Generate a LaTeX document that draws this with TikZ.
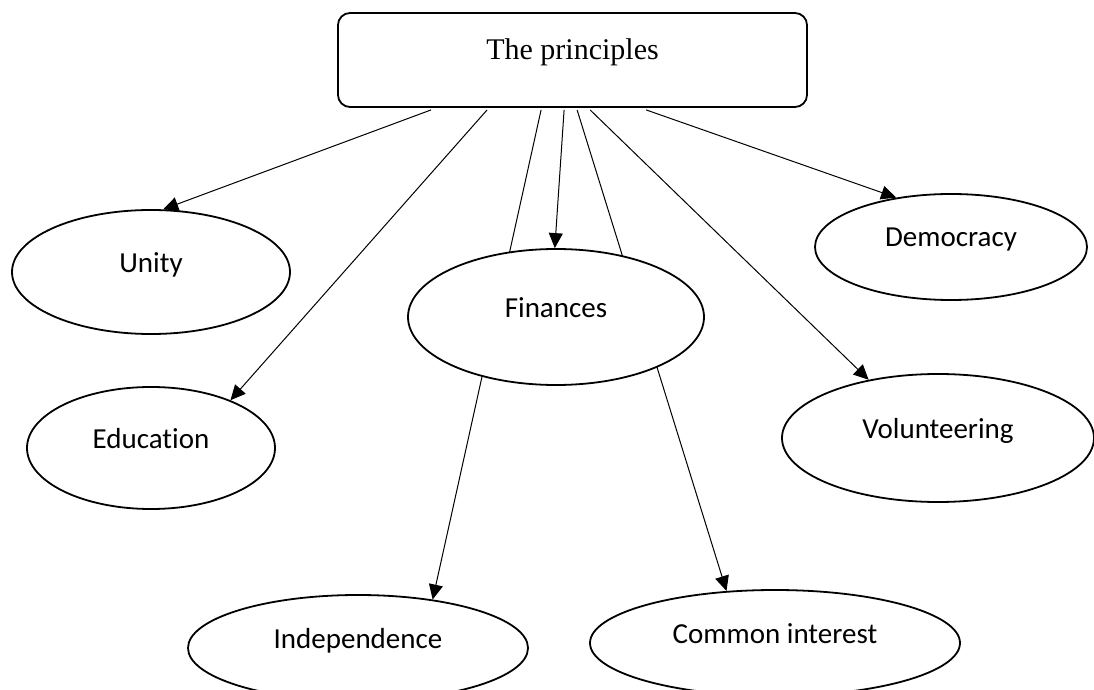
\documentclass[tikz,border=0pt]{standalone}
\usepackage{fontspec}
\setmainfont{Carlito}[Ligatures=NoCommon]
\newfontfamily\titlefont{Liberation Serif}
\usetikzlibrary{shapes,arrows.meta,positioning,backgrounds}

\tikzset{
  oval/.style={ellipse, draw, line width=0.9pt, fill=white, inner sep=0pt,
    text height=8pt, text depth=8pt, font=\fontsize{14.5}{16}\selectfont},
  topbox/.style={rectangle, rounded corners=6pt, draw, line width=0.9pt, fill=white,
    minimum width=234.5pt, minimum height=47pt, text height=10pt, text depth=10pt,
    font=\titlefont\fontsize{15}{18}\selectfont},
  arr/.style={line width=0.5pt, -{Triangle[length=7.5pt,width=7pt]}}
}

\begin{document}
\begin{tikzpicture}[x=0.5pt, y=-0.5pt]
    \clip (0,0) rectangle (1094,690);

    % Top box
    \node[topbox] (principles) at (572.5,60) {The principles};

    % Ellipses: name/x/y/width/height/text
    \foreach \n/\x/\y/\w/\h/\t in {unity/151/272/139/62/Unity,
        education/151/448/124/61/Education,
        finances/556/317/148/68/Finances,
        democracy/951/247/136/53/Democracy,
        volunteering/938/438/156/64/Volunteering,
        independence/358/648/170/53/Independence,
        common/775/643/185/53/Common interest}
        \node[oval, minimum width=\w pt, minimum height=\h pt] (\n) at (\x,\y) {\t};

    % Arrows, kept under the ellipses
    \begin{scope}[on background layer]
        \foreach \off/\to in {47/unity.79, 75/education.31, 102/independence.33,
            113.5/finances.91, 120/common.133, 126.5/volunteering.140, 154.5/democracy.138}
            \draw[arr] ([xshift=\off pt, yshift=-1pt]principles.south west) -- (\to);
    \end{scope}
\end{tikzpicture}
\end{document}
